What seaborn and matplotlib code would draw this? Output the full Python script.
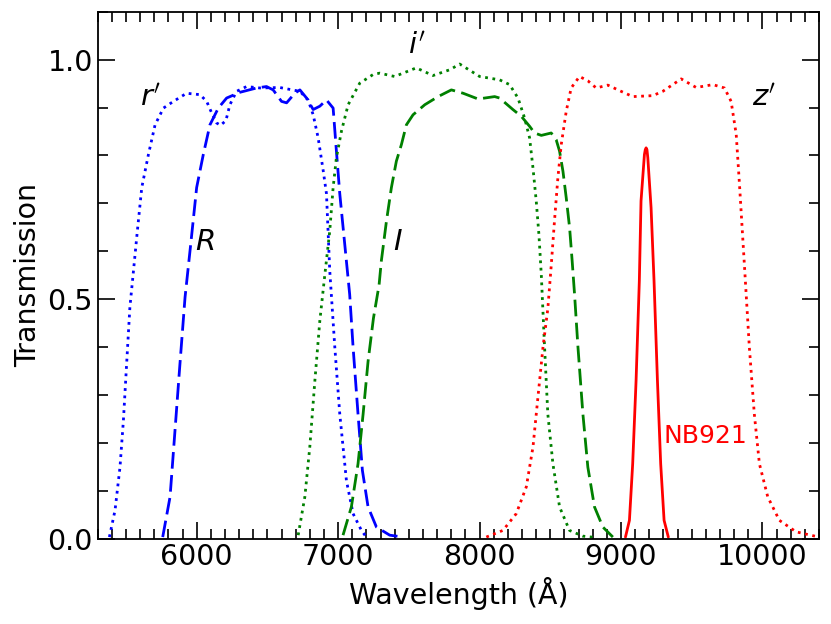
import numpy as np
import pandas as pd
import matplotlib
matplotlib.use("Agg")
import matplotlib.pyplot as plt
import seaborn as sns
from matplotlib.ticker import MultipleLocator

# ---- filter curves (wavelength in A, transmission) ----
r_prime_wl = [5383, 5423, 5458, 5482, 5505, 5528, 5547, 5580, 5612, 5659, 5706, 5765, 5836,
              5929, 6024, 6071, 6106, 6141, 6169, 6207, 6235, 6282, 6353, 6447, 6588, 6730,
              6788, 6824, 6859, 6895, 6918, 6941, 6977, 7012, 7059, 7106, 7165, 7200]
r_prime_tr = [0.003, 0.059, 0.149, 0.246, 0.365, 0.483, 0.54, 0.64, 0.733, 0.802, 0.864, 0.899, 0.913,
              0.930, 0.927, 0.913, 0.889, 0.868, 0.863, 0.873, 0.906, 0.934, 0.944, 0.941, 0.942, 0.934,
              0.916, 0.885, 0.837, 0.768, 0.72, 0.56, 0.399, 0.260, 0.121, 0.052, 0.017, 0.003]

R_wl = [5760, 5812, 5847, 5882, 5918, 5960, 6000, 6047, 6094, 6153, 6212, 6306, 6424, 6494,
        6541, 6600, 6636, 6694, 6730, 6777, 6824, 6871, 6918, 6965, 6988, 7012, 7047, 7082,
        7106, 7141, 7172, 7212, 7271, 7365, 7459]
R_tr = [0.003, 0.087, 0.226, 0.365, 0.504, 0.62, 0.733, 0.802, 0.864, 0.899, 0.920, 0.932, 0.941, 0.944,
        0.937, 0.913, 0.910, 0.930, 0.937, 0.920, 0.896, 0.903, 0.916, 0.899, 0.81, 0.72, 0.615, 0.51,
        0.40, 0.260, 0.142, 0.066, 0.024, 0.007, 0.003]

i_prime_wl = [6718, 6765, 6800, 6836, 6871, 6906, 6941, 6965, 6988, 7024, 7071, 7153, 7247,
              7294, 7400, 7553, 7671, 7789, 7860, 8001, 8142, 8213, 8272, 8319, 8354, 8378,
              8401, 8420, 8437, 8460, 8483, 8519, 8566, 8636, 8730, 8825]
i_prime_tr = [0.007, 0.087, 0.191, 0.330, 0.455, 0.55, 0.642, 0.733, 0.795, 0.851, 0.906, 0.951, 0.969,
              0.972, 0.965, 0.983, 0.967, 0.979, 0.991, 0.965, 0.958, 0.948, 0.920, 0.878, 0.837, 0.774,
              0.705, 0.635, 0.55, 0.40, 0.260, 0.156, 0.066, 0.017, 0.005, 0.002]

I_wl = [7035, 7094, 7141, 7177, 7212, 7250, 7290, 7306, 7342, 7377, 7412, 7448, 7483, 7530,
        7613, 7707, 7801, 7884, 7990, 8107, 8142, 8236, 8295, 8354, 8389, 8437, 8507, 8542,
        8566, 8590, 8613, 8637, 8655, 8672, 8696, 8731, 8766, 8813, 8872, 8943]
I_tr = [0.007, 0.066, 0.156, 0.260, 0.37, 0.46, 0.53, 0.58, 0.663, 0.733, 0.788, 0.823, 0.864, 0.885,
        0.906, 0.923, 0.937, 0.930, 0.918, 0.923, 0.920, 0.896, 0.882, 0.861, 0.847, 0.842, 0.847, 0.833,
        0.809, 0.767, 0.712, 0.649, 0.580, 0.510, 0.40, 0.260, 0.149, 0.066, 0.024, 0.003]

z_prime_wl = [8048, 8166, 8260, 8331, 8378, 8413, 8449, 8483, 8507, 8530, 8554, 8578, 8613,
              8648, 8707, 8766, 8825, 8907, 9001, 9084, 9225, 9296, 9426, 9532, 9650, 9732,
              9779, 9815, 9838, 9874, 9908, 9943, 9979, 10038, 10120, 10238, 10400]
z_prime_tr = [0.003, 0.017, 0.052, 0.108, 0.191, 0.295, 0.40, 0.48, 0.57, 0.663, 0.753, 0.823, 0.892,
              0.941, 0.965, 0.956, 0.941, 0.947, 0.934, 0.923, 0.925, 0.934, 0.960, 0.942, 0.948, 0.941,
              0.913, 0.844, 0.740, 0.566, 0.399, 0.260, 0.156, 0.087, 0.038, 0.014, 0.003]

nb921_wl = [9032, 9060, 9083, 9107, 9130, 9142, 9166, 9172, 9178, 9184, 9190, 9213, 9234, 9258, 9281, 9305, 9335]
nb921_tr = [0.003, 0.038, 0.156, 0.330, 0.538, 0.705, 0.802, 0.812, 0.816, 0.812, 0.795, 0.691, 0.538,
            0.330, 0.156, 0.038, 0.003]

# label text, position (A, T), colour
labels = [("$r'$", 5670, 0.92, "k"), ("$R$", 6060, 0.62, "k"), ("$I$", 7420, 0.62, "k"),
          ("$i'$", 7556, 1.03, "k"), ("$z'$", 10013, 0.92, "k"), ("NB921", 9597, 0.215, "red")]

sns.set_style("ticks")
plt.rcParams["font.family"] = ["DejaVu Sans"]
plt.rcParams["mathtext.fontset"] = "dejavusans"
for key in ["text.color", "axes.labelcolor", "xtick.color", "ytick.color", "axes.edgecolor"]:
    plt.rcParams[key] = "black"

fig = plt.figure(figsize=(8.31, 6.24), dpi=100)
ax = fig.add_axes([0.1175, 0.137, 0.868, 0.844])

dash = (0, (6, 2.3))
curves = [
    (r_prime_wl, r_prime_tr, "blue", ":"),
    (R_wl, R_tr, "blue", dash),
    (i_prime_wl, i_prime_tr, "green", ":"),
    (I_wl, I_tr, "green", dash),
    (z_prime_wl, z_prime_tr, "red", ":"),
    (nb921_wl, nb921_tr, "red", "-"),
]
for wl, tr, col, ls in curves:
    d = pd.DataFrame({"wl": wl, "tr": tr})
    sns.lineplot(data=d, x="wl", y="tr", ax=ax, color=col, linestyle=ls, linewidth=2.0,
                 estimator=None, sort=False)

for txt, x, y, col in labels:
    fs = 18 if txt == "NB921" else 21
    ax.text(x, y, txt, color=col, fontsize=fs, ha="center", va="center")

ax.set_xlim(5300, 10400)
ax.set_ylim(0, 1.1)
ax.xaxis.set_major_locator(MultipleLocator(1000))
ax.xaxis.set_minor_locator(MultipleLocator(100))
ax.yaxis.set_major_locator(MultipleLocator(0.5))
ax.yaxis.set_minor_locator(MultipleLocator(0.1))
ax.tick_params(which="both", direction="in", top=True, right=True, labelsize=20.5, width=1.2)
ax.tick_params(which="major", length=12)
ax.tick_params(which="minor", length=7)
for s in ax.spines.values():
    s.set_linewidth(1.3)
ax.set_xlabel("Wavelength (Å)", fontsize=20.5)
ax.set_ylabel("Transmission", fontsize=20.5)

fig.savefig("out.png", dpi=100)
